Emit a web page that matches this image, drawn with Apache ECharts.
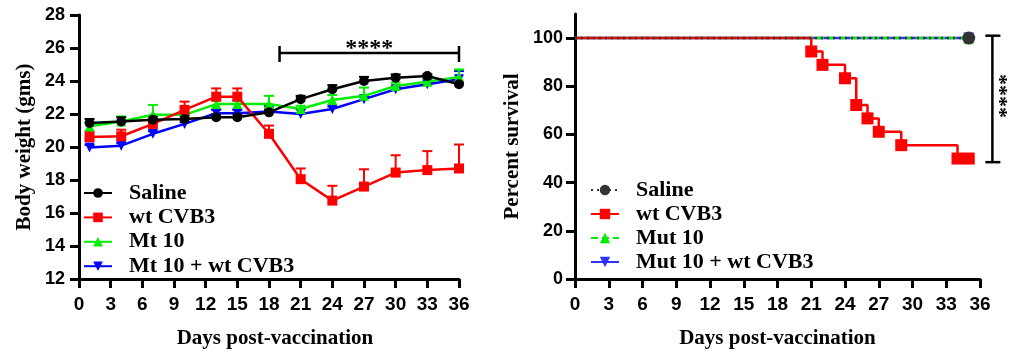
<!DOCTYPE html>
<html><head><meta charset="utf-8">
<script src="https://cdn.jsdelivr.net/npm/echarts@6/dist/echarts.min.js"></script>
<style>html,body{margin:0;padding:0;background:#fff}#c{width:1014px;height:354px}</style>
</head><body><div id="c"></div>
<script>
// ---- Body weight panel ----
const days = [1, 4, 7, 10, 13, 15, 18, 21, 24, 27, 30, 33, 36];
const saline = [21.45, 21.55, 21.65, 21.7, 21.8, 21.8, 22.1, 22.9, 23.5, 24.0, 24.2, 24.3, 23.8];
const salineErr = [0.25, 0.25, 0.2, 0.2, 0.2, 0.2, 0.15, 0.2, 0.25, 0.25, 0.2, 0.1, 0.15];
const wtCVB3 = [20.6, 20.65, 21.4, 22.25, 23.05, 23.05, 20.8, 18.05, 16.75, 17.6, 18.45, 18.6, 18.7];
const wtCVB3Err = [0.35, 0.4, 0.3, 0.5, 0.5, 0.5, 0.5, 0.65, 0.9, 1.05, 1.05, 1.15, 1.45];
const mt10 = [21.25, 21.55, 21.95, 21.95, 22.6, 22.6, 22.6, 22.3, 22.85, 23.1, 23.7, 23.95, 24.25];
const mt10Err = [0.25, 0.3, 0.6, 0.1, 0.2, 0.2, 0.5, 0.2, 0.3, 0.5, 0.2, 0.2, 0.45];
const mt10wt = [19.97, 20.08, 20.8, 21.4, 22.05, 22.05, 22.15, 22.0, 22.3, 22.9, 23.5, 23.8, 24.1];
const mt10wtErr = [0.15, 0.15, 0.15, 0.1, 0.2, 0.2, 0.35, 0.3, 0.15, 0.15, 0.15, 0.15, 0.5];
const weightSig = { from: 19, to: 36, y: 25.7, label: '****', labelX: 27.5, labelY: 25.95 };

// ---- Survival panel ----
const survSaline = [[0, 100], [35, 100]];
const survWt = [[0, 100], [21, 94.44], [22, 88.89], [24, 83.33], [25, 72.22], [26, 66.67], [27, 61.11], [29, 55.56], [34, 50], [35, 50]];
const survMut10 = [[0, 100], [35, 100]];
const survMut10wt = [[0, 100], [35, 100]];
const survSig = { x: 37.1, from: 101, to: 48.5, label: '****', labelX: 37.65, labelY: 76 };

const xTicks = [0, 3, 6, 9, 12, 15, 18, 21, 24, 27, 30, 33, 36];
const survTicks = [0, 20, 40, 60, 80, 100];

const SANS = 'Liberation Sans';
const SERIF = 'Liberation Serif';
const axisLine = { show: true, onZero: false, lineStyle: { color: '#000', width: 3 } };
const axisTick = { show: true, length: 9, lineStyle: { color: '#000', width: 3 } };
const labelStyle = { color: '#000', fontFamily: SANS, fontWeight: 'bold', fontSize: 18 };
const xLabelStyle = { color: '#000', fontFamily: SANS, fontWeight: 'bold', fontSize: 19 };
const nameStyle = { color: '#000', fontFamily: SERIF, fontWeight: 'bold', fontSize: 21 };

function errSeries(vals, errs, color, z) {
  return {
    type: 'custom', xAxisIndex: 0, yAxisIndex: 0, z: z, silent: true,
    data: days.map((d, i) => [d, vals[i], vals[i] + errs[i]]),
    renderItem(params, api) {
      const p0 = api.coord([api.value(0), api.value(1)]);
      const p1 = api.coord([api.value(0), api.value(2)]);
      return { type: 'group', children: [
        { type: 'line', shape: { x1: p0[0], y1: p0[1], x2: p1[0], y2: p1[1] }, style: { stroke: color, lineWidth: 2 } },
        { type: 'line', shape: { x1: p1[0] - 5, y1: p1[1], x2: p1[0] + 5, y2: p1[1] }, style: { stroke: color, lineWidth: 2 } }
      ] };
    }
  };
}
function weightLine(name, vals, color, symbol, rot, z) {
  return {
    name: name, type: 'line', xAxisIndex: 0, yAxisIndex: 0, z: z,
    data: days.map((d, i) => [d, vals[i]]),
    symbol: symbol, symbolSize: 10, symbolRotate: rot,
    lineStyle: { color: color, width: 2.5 }, itemStyle: { color: color },
    showAllSymbol: true
  };
}
function survLine(name, data, color, symbol, rot, size, lineType, z, width) {
  return {
    name: name, type: 'line', xAxisIndex: 1, yAxisIndex: 1, z: z, step: 'end',
    data: data.map((p, i) => ({ value: p, symbol: i === 0 ? 'none' : symbol })),
    symbol: symbol, symbolSize: size, symbolRotate: rot, showAllSymbol: true,
    lineStyle: { color: color, width: width, type: lineType }, itemStyle: { color: color }
  };
}

const chart = echarts.init(document.getElementById('c'));
chart.setOption({
  animation: false,
  grid: [
    { left: 79, top: 15, width: 380, height: 264 },
    { left: 575, top: 14, width: 405, height: 265 }
  ],
  xAxis: [
    { type: 'value', gridIndex: 0, min: 0, max: 36, interval: 3, axisLine, axisTick, splitLine: { show: false },
      axisLabel: Object.assign({ margin: 16 }, xLabelStyle),
      name: 'Days post-vaccination', nameLocation: 'middle', nameGap: 49, nameTextStyle: Object.assign({ padding: [0, 0, 0, 12] }, nameStyle) },
    { type: 'value', gridIndex: 1, min: 0, max: 36, interval: 3, axisLine, axisTick, splitLine: { show: false },
      axisLabel: Object.assign({ margin: 16 }, xLabelStyle),
      name: 'Days post-vaccination', nameLocation: 'middle', nameGap: 49, nameTextStyle: nameStyle }
  ],
  yAxis: [
    { type: 'value', gridIndex: 0, min: 12, max: 28, interval: 2, axisLine, axisTick, splitLine: { show: false },
      axisLabel: Object.assign({ margin: 14 }, labelStyle),
      name: 'Body weight (gms)', nameLocation: 'middle', nameGap: 44, nameTextStyle: nameStyle },
    { type: 'value', gridIndex: 1, min: 0, max: 110, interval: 20, axisLine, splitLine: { show: false },
      axisTick: Object.assign({ customValues: survTicks }, axisTick),
      axisLabel: Object.assign({ margin: 12, customValues: survTicks }, labelStyle),
      name: 'Percent survival', nameLocation: 'middle', nameGap: 52, nameTextStyle: nameStyle }
  ],
  legend: [
    { data: ['Saline', 'wt CVB3', 'Mt 10', 'Mt 10 + wt CVB3'], orient: 'vertical', left: 83, top: 182, padding: 0,
      itemWidth: 28, itemHeight: 12, itemGap: 2.4, selectedMode: false,
      textStyle: { color: '#000', fontFamily: SERIF, fontWeight: 'bold', fontSize: 22, lineHeight: 22, padding: [0, 0, 0, 12] } },
    { data: ['Saline ', 'wt CVB3 ', 'Mut 10', 'Mut 10 + wt CVB3'], orient: 'vertical', left: 590, top: 179, padding: 0,
      itemWidth: 28, itemHeight: 13, itemGap: 2, selectedMode: false, formatter: n => n.trim(),
      textStyle: { color: '#000', fontFamily: SERIF, fontWeight: 'bold', fontSize: 22, lineHeight: 22, padding: [0, 0, 0, 12] } }
  ],
  series: [
    errSeries(mt10wt, mt10wtErr, '#0000ff', 1),
    errSeries(mt10, mt10Err, '#00ee00', 2),
    errSeries(wtCVB3, wtCVB3Err, '#ff0000', 3),
    errSeries(saline, salineErr, '#000000', 4),
    weightLine('Mt 10 + wt CVB3', mt10wt, '#0000ff', 'triangle', 180, 5),
    weightLine('Mt 10', mt10, '#00ee00', 'triangle', 0, 6),
    weightLine('wt CVB3', wtCVB3, '#ff0000', 'rect', 0, 7),
    weightLine('Saline', saline, '#000000', 'circle', 0, 8),
    {
      type: 'custom', xAxisIndex: 0, yAxisIndex: 0, z: 9, silent: true, clip: false,
      data: [[weightSig.from, weightSig.y, weightSig.to, weightSig.labelX, weightSig.labelY]],
      renderItem(params, api) {
        const a = api.coord([api.value(0), api.value(1)]);
        const b = api.coord([api.value(2), api.value(1)]);
        const t = api.coord([api.value(3), api.value(4)]);
        const st = { stroke: '#000', lineWidth: 2.5 };
        return { type: 'group', children: [
          { type: 'line', shape: { x1: a[0], y1: a[1], x2: b[0], y2: b[1] }, style: st },
          { type: 'line', shape: { x1: a[0], y1: a[1] - 7, x2: a[0], y2: a[1] + 9 }, style: st },
          { type: 'line', shape: { x1: b[0], y1: b[1] - 7, x2: b[0], y2: b[1] + 9 }, style: st },
          { type: 'text', x: t[0], y: t[1], style: { text: weightSig.label, align: 'center', verticalAlign: 'middle',
            fill: '#000', font: 'bold 24px "Liberation Serif"' } }
        ] };
      }
    },
    survLine('Mut 10 + wt CVB3', survMut10wt, '#3030ff', 'triangle', 180, 11, 'solid', 1, 2.5),
    survLine('Mut 10', survMut10, '#00ee00', 'triangle', 0, 11, [7, 4], 2, 2.5),
    survLine('wt CVB3 ', survWt, '#ff0000', 'rect', 0, 12, 'solid', 3, 2.5),
    survLine('Saline ', survSaline, '#333333', 'circle', 0, 13, [2, 4], 4, 2.5),
    {
      type: 'custom', xAxisIndex: 1, yAxisIndex: 1, z: 9, silent: true, clip: false,
      data: [[survSig.x, survSig.from, survSig.to, survSig.labelX, survSig.labelY]],
      renderItem(params, api) {
        const a = api.coord([api.value(0), api.value(1)]);
        const b = api.coord([api.value(0), api.value(2)]);
        const t = api.coord([api.value(3), api.value(4)]);
        const st = { stroke: '#000', lineWidth: 2.5 };
        return { type: 'group', children: [
          { type: 'line', shape: { x1: a[0], y1: a[1], x2: b[0], y2: b[1] }, style: st },
          { type: 'line', shape: { x1: a[0] - 7, y1: a[1], x2: a[0] + 8, y2: a[1] }, style: st },
          { type: 'line', shape: { x1: b[0] - 7, y1: b[1], x2: b[0] + 8, y2: b[1] }, style: st },
          { type: 'text', x: t[0], y: t[1], rotation: -Math.PI / 2, style: { text: survSig.label, align: 'center', verticalAlign: 'middle',
            fill: '#000', font: 'bold 22px "Liberation Serif"' } }
        ] };
      }
    }
  ]
});
</script>
</body></html>
